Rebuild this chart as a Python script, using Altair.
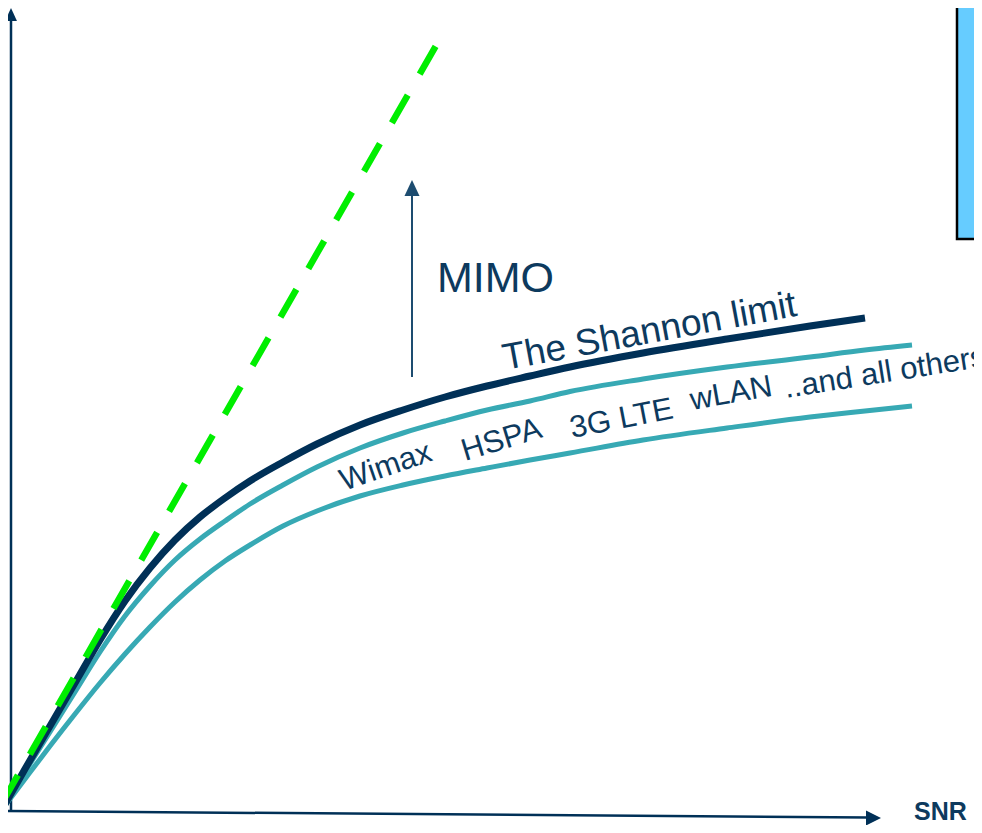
import altair as alt
import pandas as pd

# ---- data (picture pixel coordinates) ----
shannon_x = [4, 25, 50, 75, 100, 125, 150, 175, 200, 225, 250, 283, 317, 360, 403, 445, 487, 530, 570, 643, 727, 810, 865]
shannon_y = [806, 769, 726, 683, 640, 601, 568, 540, 517, 498, 481, 462, 444, 425, 410, 397, 386, 376, 367, 353, 339, 326, 318]

tech_hi_x = [4, 25, 50, 75, 100, 125, 150, 175, 200, 225, 250, 283, 317, 360, 403, 445, 487, 530, 570, 643, 727, 810, 865, 912]
tech_hi_y = [807, 772, 732, 692, 652, 616, 586, 560, 539, 521, 504, 485, 467, 448, 433, 421, 410, 401, 391.5, 379, 367, 357, 350, 345]

tech_lo_x = [4, 25, 50, 75, 100, 125, 150, 175, 200, 225, 250, 283, 317, 360, 403, 445, 487, 530, 570, 643, 727, 810, 865, 912]
tech_lo_y = [807, 779, 746, 714, 683, 654, 627, 602, 580, 561, 545, 526, 511, 496, 485, 476, 468, 460, 453, 440, 428, 417, 411, 406]

mimo_line_x = [2, 437]
mimo_line_y = [803, 44]

words = ["Wimax", "HSPA", "3G LTE", "wLAN", "..and all others"]
words_x = [344, 465, 572, 692, 786]
words_y = [491, 461, 438, 410, 398]
words_angle = [341, 343, 349, 350, 351]

NAVY = "#003057"
TEXT = "#0d3a5e"
TEAL = "#37a9b4"
GREEN = "#00ee00"

xs = alt.Scale(domain=[8, 974], nice=False, zero=False)
ys = alt.Scale(domain=[8, 825], nice=False, zero=False, reverse=True)


def X(f="x"):
    return alt.X(f"{f}:Q", scale=xs, axis=None)


def Y(f="y"):
    return alt.Y(f"{f}:Q", scale=ys, axis=None)


def curve(xv, yv, color, width, dash=None):
    df = pd.DataFrame({"x": xv, "y": yv, "o": list(range(len(xv)))})
    kw = dict(color=color, strokeWidth=width, interpolate="monotone", clip=False)
    if dash:
        kw["strokeDash"] = dash
    return alt.Chart(df).mark_line(**kw).encode(x=X(), y=Y(), order="o:Q")


def seg(x1, y1, x2, y2, color, width):
    df = pd.DataFrame({"x": [x1], "y": [y1], "x2": [x2], "y2": [y2]})
    return alt.Chart(df).mark_rule(color=color, strokeWidth=width).encode(
        x=X(), y=Y(), x2="x2:Q", y2="y2:Q"
    )


def head(x, y, path, size, color):
    df = pd.DataFrame({"x": [x], "y": [y]})
    return alt.Chart(df).mark_point(
        shape=path, size=size, filled=True, opacity=1, color=color, strokeWidth=0
    ).encode(x=X(), y=Y())


def label(txt, x, y, size, color, angle=0, weight="normal"):
    df = pd.DataFrame({"x": [x], "y": [y], "t": [txt]})
    kw = dict(align="left", baseline="alphabetic", fontSize=size, color=color,
              font="Liberation Sans", fontWeight=weight)
    if angle:
        kw["angle"] = angle
    return alt.Chart(df).mark_text(**kw).encode(x=X(), y=Y(), text="t:N")


box_df = pd.DataFrame({"x": [957], "x2": [1000], "y": [-10], "y2": [239]})
box = alt.Chart(box_df).mark_rect(fill="#66ccff", stroke="#000000", strokeWidth=2.5).encode(
    x=X(), x2="x2:Q", y=Y(), y2="y2:Q"
)

layers = [
    box,
    # axes
    seg(11, 812, 11, 20, NAVY, 2.5),
    head(11, 14.5, "M0,-1L0.92,1L-0.92,1Z", 169, NAVY),
    seg(6, 811, 868, 817.5, NAVY, 2.5),
    head(873.5, 818, "M1,0L-1,-1L-1,1Z", 225, NAVY),
    # MIMO arrow
    seg(412, 377, 412, 192, "#1d4c70", 2),
    head(412, 188, "M0,-1L0.94,1L-0.94,1Z", 256, "#1d4c70"),
    # curves
    curve(tech_lo_x, tech_lo_y, TEAL, 5),
    curve(tech_hi_x, tech_hi_y, TEAL, 5),
    curve(shannon_x, shannon_y, NAVY, 7),
    curve(mimo_line_x, mimo_line_y, GREEN, 6.5, dash=[32, 24]),
    # texts
    label("MIMO", 437, 292, 43, TEXT),
    label("The Shannon limit", 505, 370, 37, TEXT, angle=349.5),
    label("SNR", 914, 820, 25, TEXT, weight="bold"),
]
for w, wx, wy, wa in zip(words, words_x, words_y, words_angle):
    layers.append(label(w, wx, wy, 31, TEXT, angle=wa))

chart = alt.layer(*layers).properties(
    width=966, height=817, padding=0,
    autosize=alt.AutoSizeParams(type="none"),
).configure_view(stroke=None)

chart.save("out.html", embed_options={"renderer": "svg", "actions": False})
